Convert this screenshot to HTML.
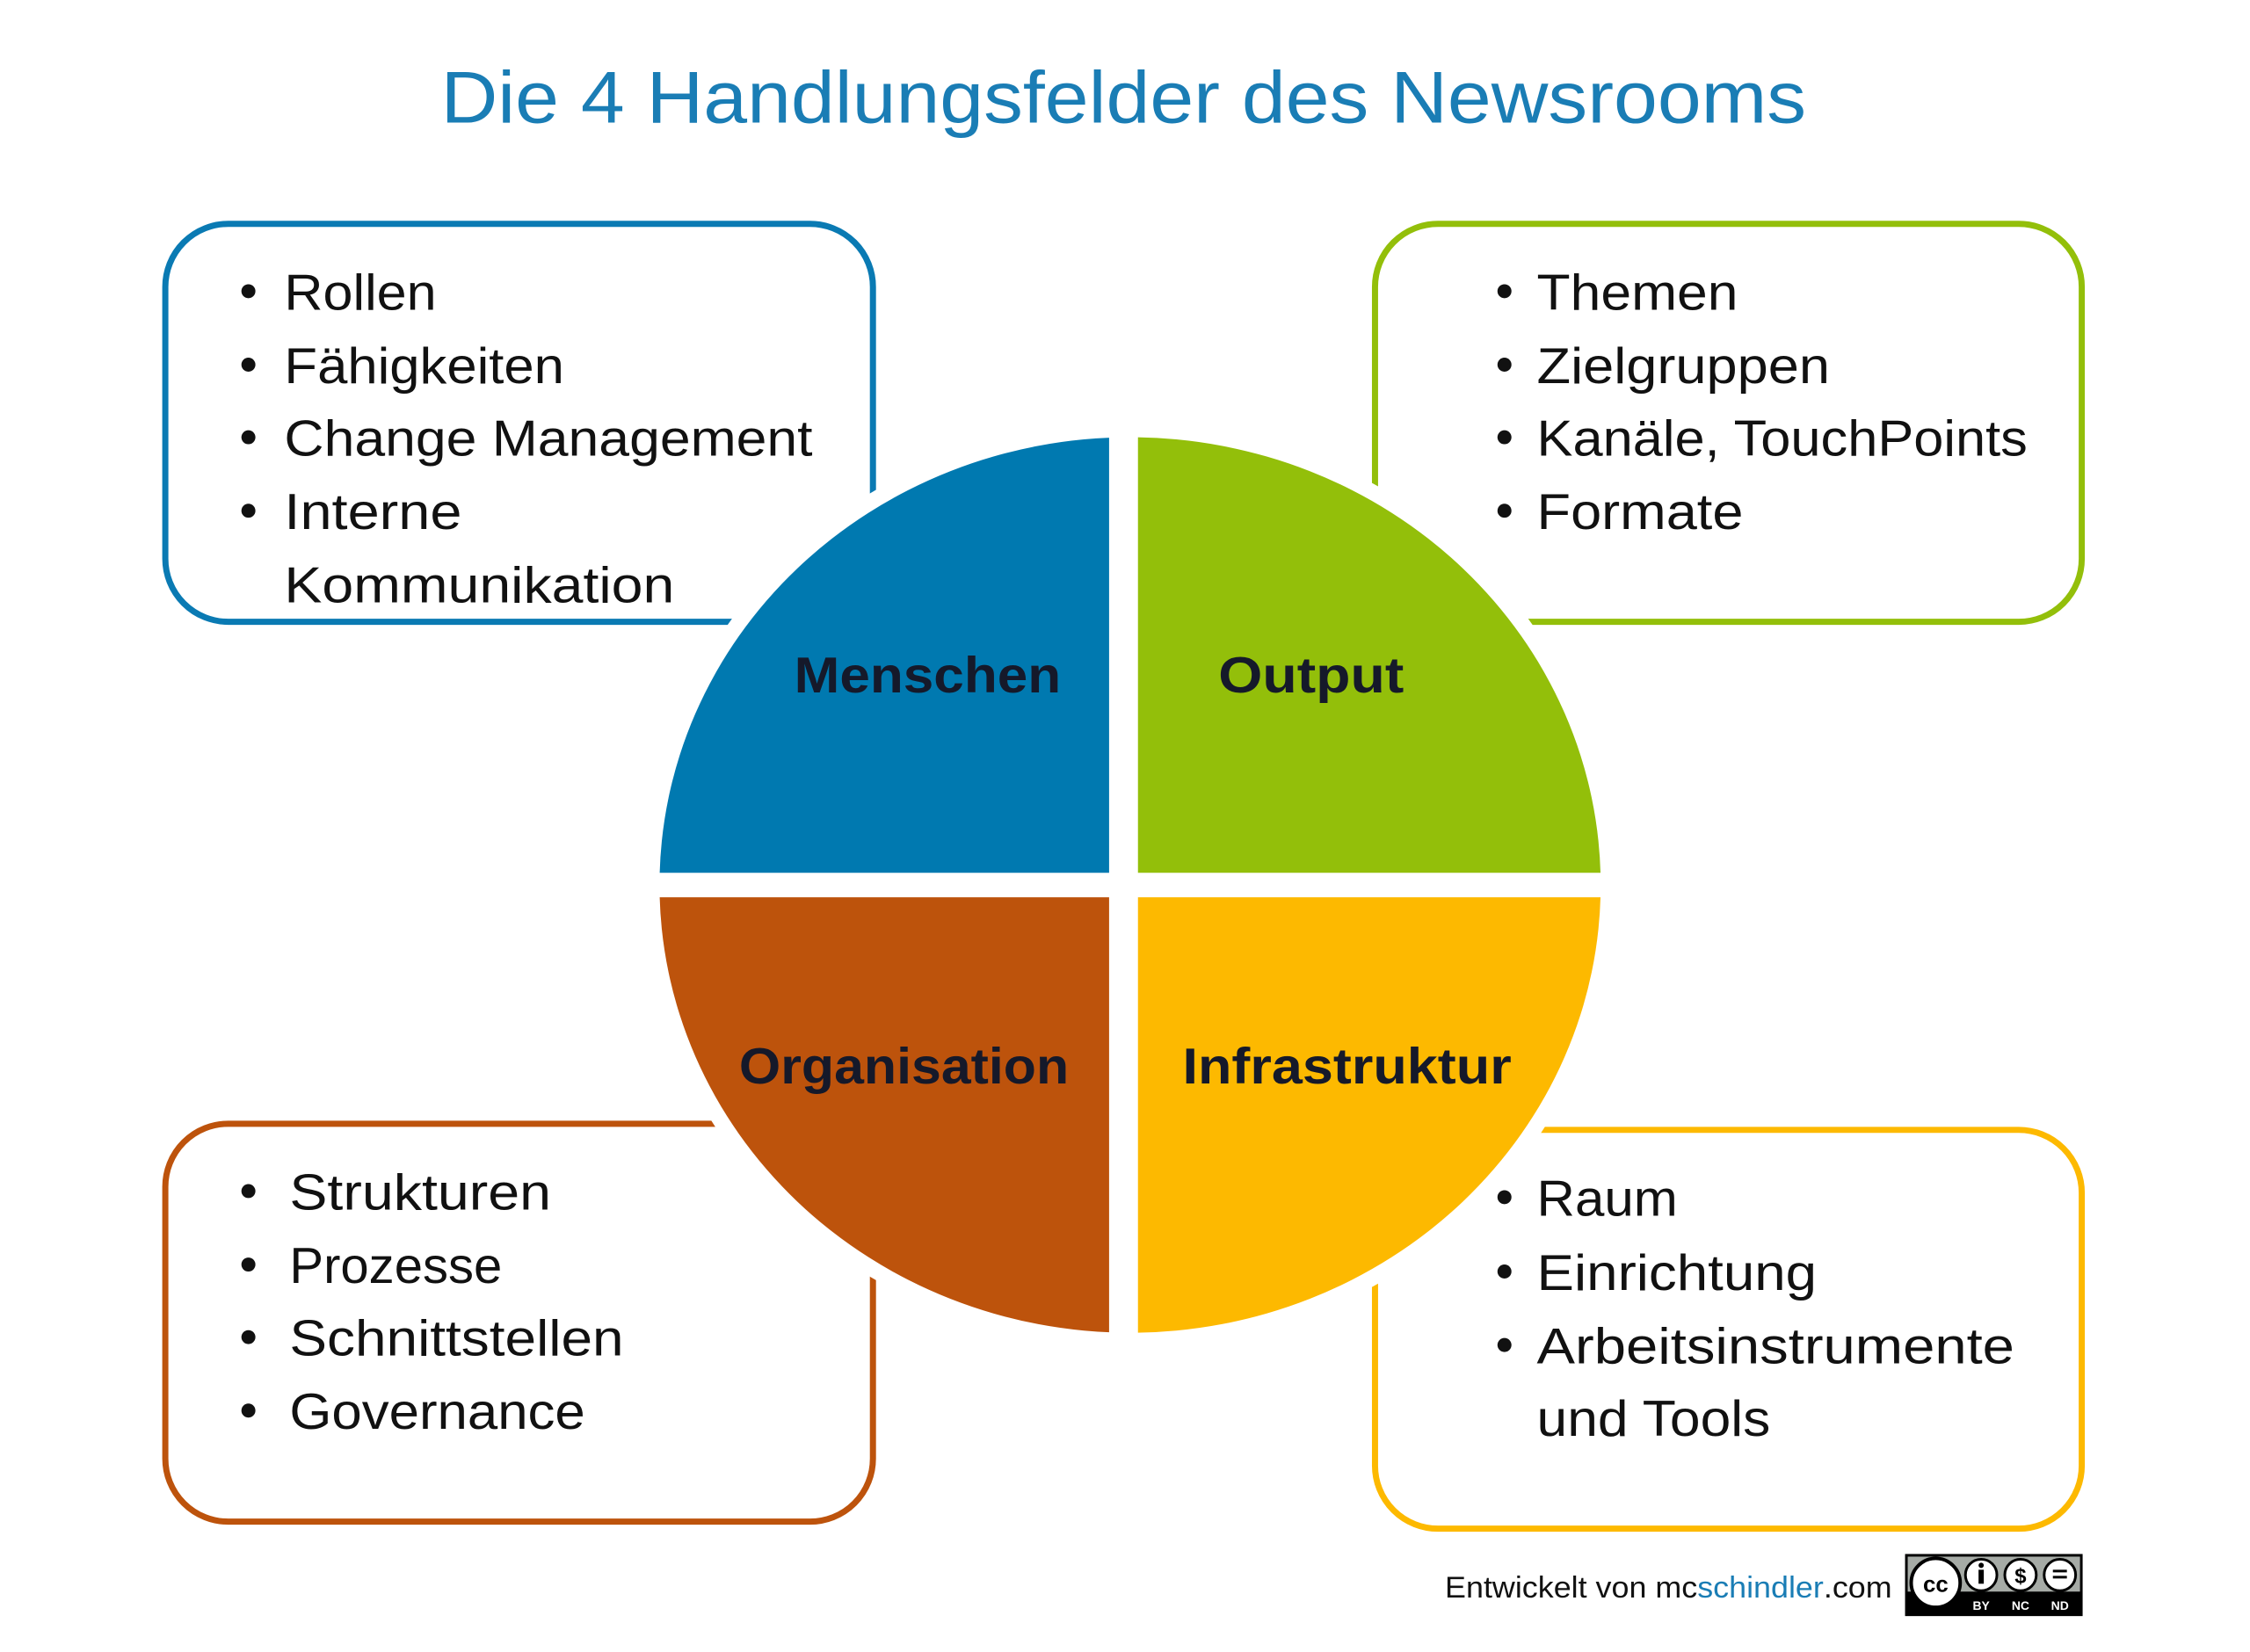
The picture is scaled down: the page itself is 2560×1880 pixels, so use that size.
<!DOCTYPE html>
<html><head><meta charset="utf-8"><style>
html,body{margin:0;padding:0;background:#fff;}
svg{display:block;}
text{font-family:"Liberation Sans",sans-serif;}
</style></head><body>
<svg width="2560" height="1880" viewBox="0 0 2560 1880" xmlns="http://www.w3.org/2000/svg">
<defs>
<clipPath id="tl"><rect x="0" y="0" width="1268" height="998"/></clipPath>
<clipPath id="tr"><rect x="1301" y="0" width="1300" height="998"/></clipPath>
<clipPath id="bl"><rect x="0" y="1026" width="1268" height="900"/></clipPath>
<clipPath id="br"><rect x="1301" y="1026" width="1300" height="900"/></clipPath>
</defs>
<rect width="2560" height="1880" fill="#fff"/>
<g transform="scale(0.9952)">
<text x="504" y="140" font-size="84" fill="#1a7db5" textLength="1561" lengthAdjust="spacingAndGlyphs">Die 4 Handlungsfelder des Newsrooms</text>

<rect x="189" y="256" width="809" height="455" rx="72" fill="none" stroke="#0a7ab3" stroke-width="7"/>
<rect x="1572" y="256" width="808" height="455" rx="72" fill="none" stroke="#93bf0a" stroke-width="7"/>
<rect x="189" y="1285" width="809" height="455" rx="72" fill="none" stroke="#bd530c" stroke-width="7"/>
<rect x="1572" y="1292" width="808" height="456" rx="72" fill="none" stroke="#fdb900" stroke-width="7"/>

<ellipse cx="1292" cy="1012" rx="556" ry="530" fill="#fff"/>
<ellipse cx="1292" cy="1012" rx="538" ry="512" fill="#0079b0" clip-path="url(#tl)"/>
<ellipse cx="1292" cy="1012" rx="538" ry="512" fill="#93bf0a" clip-path="url(#tr)"/>
<ellipse cx="1292" cy="1012" rx="538" ry="512" fill="#bd530c" clip-path="url(#bl)"/>
<ellipse cx="1292" cy="1012" rx="538" ry="512" fill="#fdb900" clip-path="url(#br)"/>

<g font-weight="bold" font-size="58" fill="#15192a">
<text x="908" y="792" textLength="305" lengthAdjust="spacingAndGlyphs">Menschen</text>
<text x="1393" y="792" textLength="212" lengthAdjust="spacingAndGlyphs">Output</text>
<text x="845" y="1239" textLength="377" lengthAdjust="spacingAndGlyphs">Organisation</text>
<text x="1352" y="1239" textLength="376" lengthAdjust="spacingAndGlyphs">Infrastruktur</text>
</g>

<g font-size="58" fill="#111">
<g>
<circle cx="284" cy="333" r="8"/><text x="325" y="354" textLength="174" lengthAdjust="spacingAndGlyphs">Rollen</text>
<circle cx="284" cy="417" r="8"/><text x="325" y="438" textLength="320" lengthAdjust="spacingAndGlyphs">Fähigkeiten</text>
<circle cx="284" cy="500" r="8"/><text x="325" y="521" textLength="604" lengthAdjust="spacingAndGlyphs">Change Management</text>
<circle cx="284" cy="584" r="8"/><text x="325" y="605" textLength="203" lengthAdjust="spacingAndGlyphs">Interne</text>
<text x="325" y="689" textLength="446" lengthAdjust="spacingAndGlyphs">Kommunikation</text>
</g>
<g>
<circle cx="1720" cy="333" r="8"/><text x="1757" y="354" textLength="230" lengthAdjust="spacingAndGlyphs">Themen</text>
<circle cx="1720" cy="417" r="8"/><text x="1757" y="438" textLength="335" lengthAdjust="spacingAndGlyphs">Zielgruppen</text>
<circle cx="1720" cy="500" r="8"/><text x="1757" y="521" textLength="561" lengthAdjust="spacingAndGlyphs">Kanäle, TouchPoints</text>
<circle cx="1720" cy="584" r="8"/><text x="1757" y="605" textLength="236" lengthAdjust="spacingAndGlyphs">Formate</text>
</g>
<g>
<circle cx="284" cy="1362" r="8"/><text x="331" y="1383" textLength="299" lengthAdjust="spacingAndGlyphs">Strukturen</text>
<circle cx="284" cy="1446" r="8"/><text x="331" y="1467" textLength="243" lengthAdjust="spacingAndGlyphs">Prozesse</text>
<circle cx="284" cy="1529" r="8"/><text x="331" y="1550" textLength="382" lengthAdjust="spacingAndGlyphs">Schnittstellen</text>
<circle cx="284" cy="1613" r="8"/><text x="331" y="1634" textLength="338" lengthAdjust="spacingAndGlyphs">Governance</text>
</g>
<g>
<circle cx="1720" cy="1369" r="8"/><text x="1757" y="1390" textLength="161" lengthAdjust="spacingAndGlyphs">Raum</text>
<circle cx="1720" cy="1454" r="8"/><text x="1757" y="1475" textLength="320" lengthAdjust="spacingAndGlyphs">Einrichtung</text>
<circle cx="1720" cy="1538" r="8"/><text x="1757" y="1559" textLength="546" lengthAdjust="spacingAndGlyphs">Arbeitsinstrumente</text>
<text x="1757" y="1642" textLength="267" lengthAdjust="spacingAndGlyphs">und Tools</text>
</g>
</g>

<text x="1652" y="1827" font-size="34" fill="#111" textLength="511" lengthAdjust="spacingAndGlyphs">Entwickelt von mc<tspan fill="#1a7db5">schindler</tspan>.com</text>

<g>
<rect x="2178" y="1777" width="203" height="71" fill="#000"/>
<rect x="2181" y="1780" width="197" height="40" fill="#a6aba6"/>
<circle cx="2213" cy="1810" r="28" fill="#fff" stroke="#000" stroke-width="4"/>
<text x="2213" y="1820" font-size="26" font-weight="bold" text-anchor="middle" fill="#000">cc</text>
<circle cx="2265" cy="1801" r="18" fill="#fff" stroke="#000" stroke-width="3"/>
<rect x="2262" y="1795" width="6" height="16" fill="#000"/><circle cx="2265" cy="1790" r="3" fill="#000"/>
<circle cx="2310" cy="1801" r="18" fill="#fff" stroke="#000" stroke-width="3"/>
<text x="2310" y="1810" font-size="24" font-weight="bold" text-anchor="middle" fill="#000">$</text>
<circle cx="2355" cy="1801" r="18" fill="#fff" stroke="#000" stroke-width="3"/>
<rect x="2347" y="1795" width="16" height="3" fill="#000"/><rect x="2347" y="1802" width="16" height="3" fill="#000"/>
<g font-size="14" font-weight="bold" fill="#fff" text-anchor="middle">
<text x="2265" y="1841">BY</text><text x="2310" y="1841">NC</text><text x="2355" y="1841">ND</text>
</g>
</g>
</g>
</svg>
</body></html>
